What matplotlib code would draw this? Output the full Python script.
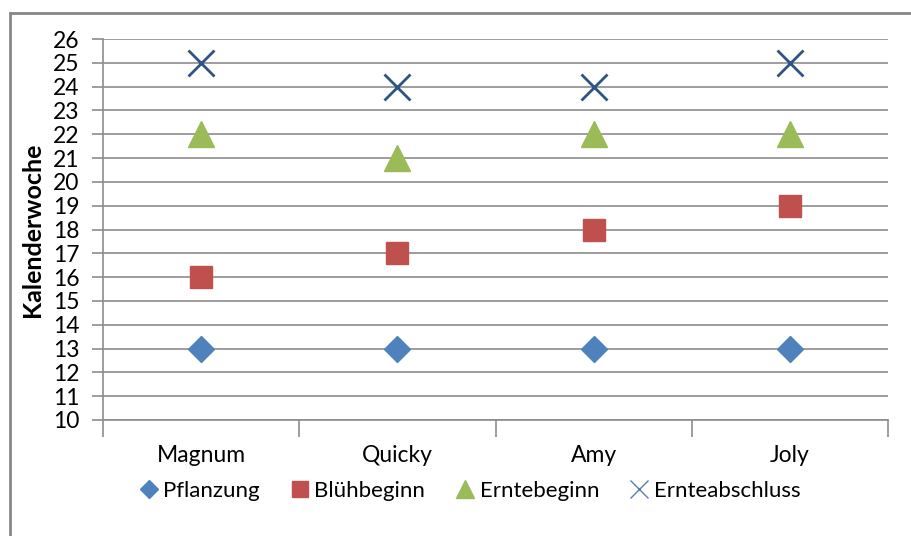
import numpy as np
import matplotlib.pyplot as plt
from matplotlib.patches import Rectangle

plt.rcParams['font.family'] = ['Lato', 'DejaVu Sans']

sorten = ["Magnum", "Quicky", "Amy", "Joly"]
pflanzung = [13, 13, 13, 13]
bluehbeginn = [16, 17, 18, 19]
erntebeginn = [22, 21, 22, 22]
ernteabschluss = [25, 24, 24, 25]

fig = plt.figure(figsize=(9.11, 5.36), dpi=100)
ax = fig.add_axes([103 / 911, 1 - 420 / 536, 785 / 911, 381 / 536])

x = np.arange(1, len(sorten) + 1)
ax.plot(x, pflanzung, ls='none', marker='D', ms=13.5, color='#4F81BD',
        mec='#4F81BD', label='Pflanzung')
ax.plot(x, bluehbeginn, ls='none', marker='s', ms=16, color='#C0504D',
        mec='#C0504D', label='Blühbeginn')
ax.plot(x, erntebeginn, ls='none', marker='^', ms=19, color='#9BBB59',
        mec='#9BBB59', label='Erntebeginn')
ax.plot(x, ernteabschluss, ls='none', marker='x', ms=19, mew=2,
        color='#2E5385', label='Ernteabschluss')

ax.set_xlim(0.5, 4.5)
ax.set_ylim(10, 26)
ax.set_yticks(range(10, 27))
ax.grid(axis='y', color='#8C8C8C', lw=1.2)
ax.set_axisbelow(True)

# category labels centred, tick marks on the boundaries
ax.set_xticks(x)
ax.set_xticklabels(sorten, fontsize=16.5)
ax.set_xticks(np.arange(0.5, 4.6, 1), minor=True)
ax.tick_params(axis='x', which='major', length=0, pad=18)
ax.tick_params(axis='x', which='minor', length=12, color='#8C8C8C', width=1.2)
ax.tick_params(axis='y', length=8, color='#8C8C8C', width=1.2, labelsize=16.5, pad=9)

for side in ['top', 'right']:
    ax.spines[side].set_visible(False)
for side in ['left', 'bottom']:
    ax.spines[side].set_color('#8C8C8C')
    ax.spines[side].set_linewidth(1.2)

ax.set_ylabel('Kalenderwoche', fontsize=18, fontweight='bold', labelpad=6)

leg = fig.legend(loc='center', bbox_to_anchor=(468 / 911, 1 - 491 / 536), ncol=4,
                 frameon=False, fontsize=16, handletextpad=0.05, columnspacing=1.2,
                 markerscale=0.7, handlelength=1.2)
leg.legend_handles[3].set_markeredgewidth(1)
leg.legend_handles[3].set_color('#5B7DB0')

# outer chart border
fig.patches.append(Rectangle((10 / 911, -0.1), 1.2, 1.1 - 13 / 536,
                             transform=fig.transFigure, fill=False,
                             edgecolor='#868686', lw=2, clip_on=False))

fig.savefig('out.png', dpi=100)
